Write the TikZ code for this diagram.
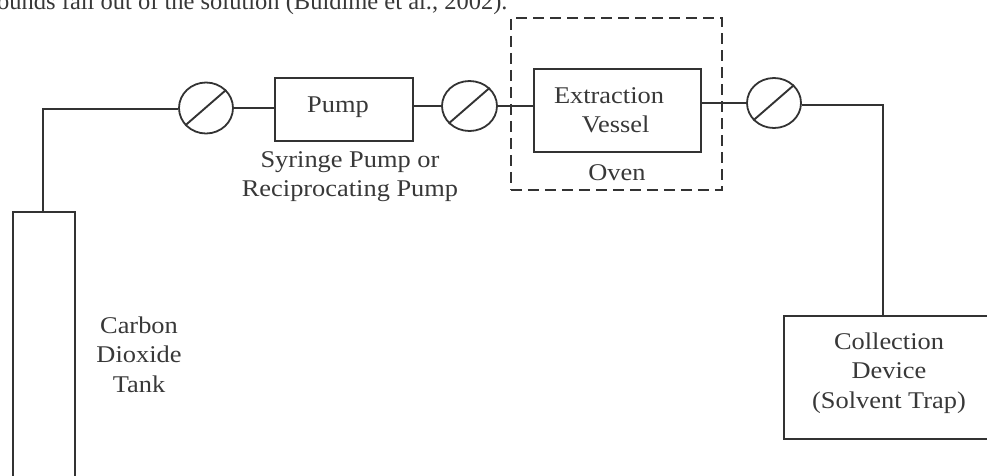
\documentclass[tikz,border=0pt]{standalone}
\usepackage{fontspec}
\setmainfont{Liberation Serif}
\newfontfamily\labelfont[FakeStretch=1.1]{Liberation Serif}
\definecolor{ink}{gray}{0.2}
\definecolor{txt}{gray}{0.22}
\usetikzlibrary{shapes.geometric}
\tikzset{
 x=1pt,y=-1pt,
 boxed/.style={draw=ink,line width=1.8pt,fill=none,inner sep=0pt},
 valve/.style={draw=ink,line width=1.8pt,ellipse,inner sep=0pt},
 pipe/.style={draw=ink,line width=1.9pt},
 label/.style={text=txt,align=center,font=\labelfont\fontsize{24}{29.3}\selectfont,inner sep=0pt},
 oven/.style={draw=ink,line width=1.8pt,dash pattern=on 11pt off 6pt}
}
\begin{document}
\begin{tikzpicture}
\useasboundingbox (0,0) rectangle (987,475);
\clip (0,0) rectangle (987,475);
\node[boxed,anchor=north west,minimum width=62pt,minimum height=290pt] (tank) at (12,211) {};
\node[boxed,anchor=north west,minimum width=138pt,minimum height=63pt] (pump) at (274,77) {};
\node[boxed,anchor=north west,minimum width=167pt,minimum height=83pt] (vessel) at (533,68) {};
\node[boxed,anchor=north west,minimum width=230pt,minimum height=123pt] (trap) at (783,315) {};
\node[oven,anchor=north west,minimum width=211pt,minimum height=172pt,inner sep=0pt] (ovenbox) at (510,17) {};
\node[valve,minimum width=54pt,minimum height=51pt] (v1) at (206,108) {};
\node[valve,minimum width=55pt,minimum height=50pt] (v2) at (469.5,106) {};
\node[valve,minimum width=54pt,minimum height=50pt] (v3) at (774,103) {};
\foreach \v in {v1,v2,v3}{\draw[pipe] (\v.220) -- (\v.42);}
\coordinate (c1) at (43,109);
\coordinate (c2) at (883,105);
\draw[pipe] (tank.north -| c1) -- (c1) -- (v1.west |- c1);
\draw[pipe] (v1.east) -- (pump.west |- v1.east);
\draw[pipe] (pump.east |- v2.east) -- (v2.west);
\draw[pipe] (v2.east) -- (vessel.west |- v2.east);
\draw[pipe] (vessel.east |- v3.west) -- (v3.west);
\draw[pipe] (v3.east |- c2) -- (c2) -- (trap.north -| c2);
\node[label] (tpump) at (338,107.5) {Pump};
\node[label] (tsyr) at (350,176.5) {Syringe Pump or\\Reciprocating Pump};
\node[label] (tves) at (609,110.5) {Extraction\\\ \ Vessel};
\node[label] (tov) at (617,173) {Oven};
\node[label] (tco) at (139,354.5) {Carbon\\Dioxide\\Tank};
\node[label] (tcol) at (889,373) {Collection\\Device\\(Solvent Trap)};
\node[text=txt,anchor=base west,font=\fontsize{24.5}{28}\selectfont,inner sep=0pt] (top) at (-3,9) {ounds fall out of the solution (Buldime et al., 2002).};
\end{tikzpicture}
\end{document}
